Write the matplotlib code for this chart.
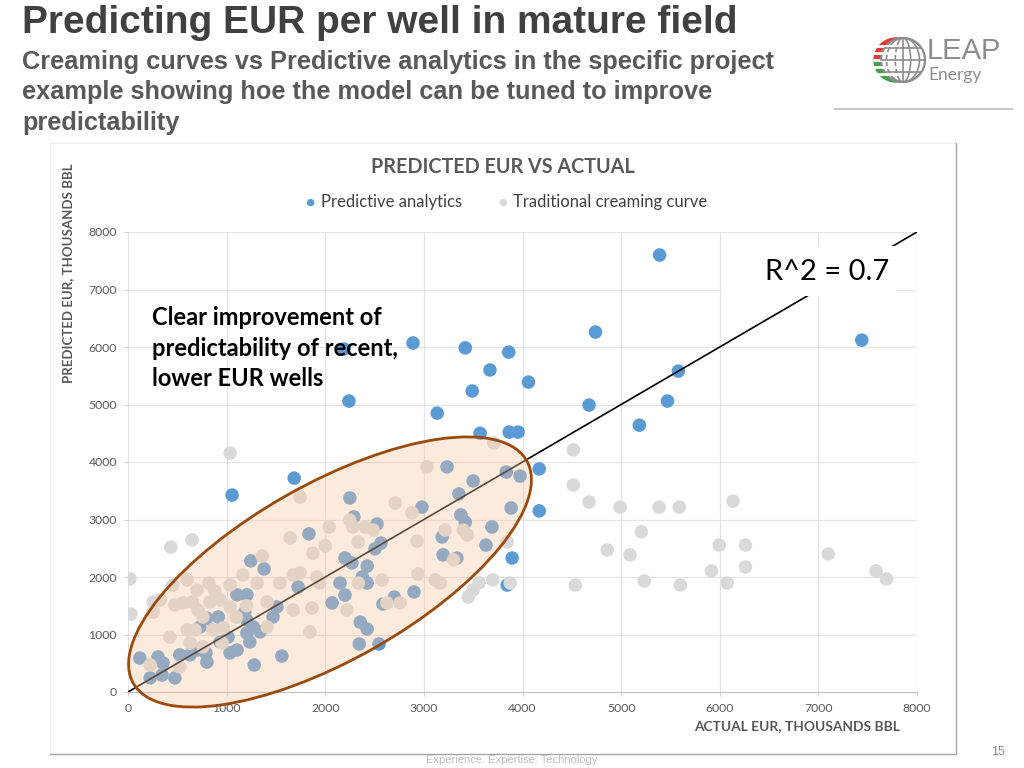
import numpy as np
import matplotlib
matplotlib.use("Agg")
import matplotlib.pyplot as plt
from matplotlib.patches import Ellipse, Rectangle, Circle, Wedge
from matplotlib.transforms import IdentityTransform
from matplotlib.lines import Line2D

# data (thousands bbl)
pred_x = [5390, 4740, 7440, 2890, 2190, 3420, 3860, 3670, 5580, 4060, 3490, 4675, 5470, 2240,
          3135, 5185, 3570, 3865, 3955, 4170, 4170, 1055, 1685, 3895, 3845, 3975,
          3235, 3500, 3835, 3355, 2980, 3885, 2250, 2290, 2525, 3375, 3420, 3690, 1835, 2565,
          2505, 3185, 3630, 3195, 3335, 2200, 2270, 2425, 1245, 1380, 1725, 2150, 2425, 2375,
          2200, 2070, 2900, 2700, 2585, 2355, 2425, 2345, 2545, 1560, 1280, 475, 225, 345,
          120, 305, 355, 525, 630, 790, 800, 700, 935, 1035, 1105, 1235, 1205, 1270, 1340,
          1205, 1185, 1105, 1205, 1470, 1510, 915, 800, 730, 1015]
pred_y = [7600, 6260, 6120, 6070, 5965, 5985, 5910, 5600, 5580, 5390, 5235, 4990, 5060, 5060,
          4850, 4640, 4500, 4520, 4520, 3880, 3150, 3425, 3720, 2330, 1860, 3755,
          3915, 3670, 3825, 3445, 3215, 3200, 3375, 3045, 2920, 3080, 2955, 2870, 2750, 2590,
          2490, 2695, 2555, 2385, 2330, 2330, 2245, 2190, 2280, 2140, 1825, 1895, 1895, 2000,
          1685, 1550, 1740, 1650, 1530, 1215, 1095, 835, 835, 625, 470, 245, 245, 295,
          590, 610, 505, 645, 645, 680, 520, 730, 870, 680, 730, 870, 1025, 1130, 1045,
          1250, 1390, 1690, 1690, 1305, 1480, 1305, 1285, 1130, 955]

trad_x = [1035, 435, 650, 20, 30, 3710, 4515, 4515, 4675, 4990, 5385, 5590, 6135, 5205,
          4860, 5090, 5995, 6260, 6260, 5915, 5235, 5600, 6075, 4535, 7100, 7585, 7690, 3875, 3700,
          3030, 2710, 2880, 2930, 2940, 3115, 3165, 3215, 3400, 3440, 3845, 3500, 3450, 1745,
          1645, 2040, 2000, 1875, 2250, 2280, 2405, 2485, 2335, 1360, 1165, 1035, 820, 600,
          455, 325, 255, 475, 560, 650, 710, 830, 935, 1035, 1310, 1410, 1540, 1675, 1745,
          1915, 1945, 1675, 1865, 1845, 2220, 2335, 2575, 2625, 2760, 425, 600, 680, 860,
          965, 630, 760, 955, 225, 525, 1410, 255, 700, 760, 1100, 1200, 880, 3560, 3300]
trad_y = [4155, 2520, 2645, 1965, 1355, 4330, 4210, 3600, 3305, 3215, 3215, 3215, 3320, 2785,
          2470, 2385, 2555, 2555, 2175, 2105, 1930, 1860, 1895, 1860, 2400, 2105, 1965, 1895, 1950,
          3915, 3285, 3115, 2625, 2050, 1950, 1895, 2815, 2815, 2730, 2610, 1775, 1650, 3390,
          2680, 2870, 2540, 2415, 2990, 2870, 2870, 2815, 2610, 2365, 2035, 1860, 1895, 1950,
          1860, 1600, 1390, 1515, 1550, 1565, 1425, 1565, 1600, 1480, 1895, 1565, 1895, 2035, 2070,
          2000, 1895, 1425, 1460, 1045, 1425, 1895, 1950, 1550, 1550, 955, 1080, 1080, 1080,
          1115, 850, 785, 850, 470, 435, 1130, 1565, 1775, 1305, 1300, 1500, 1750, 1900, 2300]

fit_x = [0, 8000]
fit_y = [0, 8000]
ticks = [0, 1000, 2000, 3000, 4000, 5000, 6000, 7000, 8000]

W, H = 1024, 768
fig = plt.figure(figsize=(W / 100, H / 100), dpi=100)
fig.patch.set_facecolor("white")


def fx(px):
    return px / W


def fy(py):
    return 1 - py / H


# slide header
fig.text(fx(22), fy(23), "Predicting EUR per well in mature field", family="Liberation Sans",
         weight="bold", size=28, color="#404040", va="center")
fig.text(fx(22), fy(50), "Creaming curves vs Predictive analytics in the specific project\n"
         "example showing hoe the model can be tuned to improve\npredictability",
         family="Liberation Sans", weight="bold", size=18.3, color="#595959", va="top",
         linespacing=1.33)

# chart frame
fig.add_artist(Line2D([fx(50), fx(956)], [fy(143), fy(143)], color="#eeeeee", lw=0.8))
fig.add_artist(Line2D([fx(50), fx(50)], [fy(143), fy(754)], color="#eeeeee", lw=0.8))
fig.add_artist(Line2D([fx(956), fx(956)], [fy(143), fy(754)], color="#a6a6a6", lw=1))
fig.add_artist(Line2D([fx(50), fx(956)], [fy(754), fy(754)], color="#a6a6a6", lw=1))

# main axes
ax = fig.add_axes([fx(128), fy(692), (917 - 128) / W, (692 - 232) / H])
ax.set_xlim(0, 8000)
ax.set_ylim(0, 8000)
ax.set_xticks(ticks)
ax.set_yticks(ticks)
ax.grid(True, color="#e3e3e3", lw=0.8)
ax.set_axisbelow(True)
for s in ["top", "right", "left"]:
    ax.spines[s].set_visible(False)
ax.spines["bottom"].set_color("#bfbfbf")
ax.tick_params(colors="#d0d0d0", labelcolor="#595959", labelsize=8.8, length=3, pad=5)
for lab in ax.get_xticklabels() + ax.get_yticklabels():
    lab.set_family("Lato")

ax.scatter(pred_x, pred_y, s=95, color="#5b9bd5", edgecolors="none", zorder=2,
           label="Predictive analytics")
ax.scatter(trad_x, trad_y, s=95, color="#d9d9d9", edgecolors="none", zorder=2.1,
           label="Traditional creaming curve")
ax.plot(fit_x, fit_y, color="black", lw=1.2, zorder=3)

# highlight ellipse (drawn in pixel space)
ell = Ellipse((330, H - 572), 452, 176, angle=29.5, transform=IdentityTransform(),
              facecolor=(249 / 255, 198 / 255, 160 / 255, 0.37), edgecolor="#9a4a0c",
              lw=2, zorder=5, clip_on=False)
ax.add_patch(ell)

# R^2 label box
ax.add_patch(Rectangle((722, H - 296), 175, 50, transform=IdentityTransform(),
                       facecolor="white", edgecolor="none", zorder=6, clip_on=False))
fig.text(fx(827), fy(272), "R^2 = 0.7", family="Lato", size=21, color="black",
         ha="center", va="center", zorder=7)

fig.text(fx(152), fy(306), "Clear improvement of\npredictability of recent,\nlower EUR wells",
         family="Lato", weight="bold", size=17, color="black", va="top", linespacing=1.4)

# chart title, legend, axis labels
fig.text(fx(503), fy(167), "PREDICTED EUR VS ACTUAL", family="Lato", weight="bold",
         size=14.2, color="#595959", ha="center", va="center")
leg = fig.legend(loc="center", bbox_to_anchor=(fx(505), fy(202)), ncol=2, frameon=False,
                 prop={"family": "Lato", "size": 12}, handletextpad=0.1,
                 columnspacing=2.0, markerscale=0.55, handlelength=1.0)
for t in leg.get_texts():
    t.set_color("#404040")
fig.text(fx(68), fy(273), "PREDICTED EUR, THOUSANDS BBL", family="Lato", weight="bold",
         size=9.5, color="#595959", rotation=90, ha="center", va="center")
fig.text(fx(797), fy(726), "ACTUAL EUR, THOUSANDS BBL", family="Lato", weight="bold",
         size=9.9, color="#595959", ha="center", va="center")

# footer
fig.text(fx(512), fy(760), "Experience. Expertise. Technology", family="Liberation Sans",
         size=8, color="#bfbfbf", ha="center", va="center")
fig.text(fx(998), fy(752), "15", family="Liberation Sans", size=9, color="#8c8c8c",
         ha="center", va="center")

# logo
fig.add_artist(Line2D([fx(835), fx(1012)], [fy(109), fy(109)], color="#c8c8c8", lw=1.5))
lg = fig.add_axes([fx(860), fy(90), 140 / W, 60 / H])
lg.set_xlim(0, 140)
lg.set_ylim(0, 60)
lg.axis("off")
cx, cy, r = 43, 30, 22
lg.add_patch(Wedge((cx - 7, cy), r, 90, 180, color="#e53935"))
lg.add_patch(Wedge((cx - 7, cy), r, 0, 90, color="#e53935"))
lg.add_patch(Wedge((cx - 7, cy), r, 180, 360, color="#43a047"))
for yy in [cy - 14, cy - 7, cy, cy + 7, cy + 14]:
    lg.plot([cx - 30, cx], [yy, yy], color="white", lw=2)
lg.add_patch(Circle((cx, cy), r, facecolor="white", edgecolor="#8c8c8c", lw=1.6))
for k in [0.35, 0.75]:
    lg.add_patch(Ellipse((cx, cy), 2 * r * k, 2 * r, facecolor="none", edgecolor="#8c8c8c", lw=1.2))
lg.plot([cx, cx], [cy - r, cy + r], color="#8c8c8c", lw=1.2)
for yy in [-12, 0, 12]:
    hw = np.sqrt(r ** 2 - yy ** 2)
    lg.plot([cx - hw, cx + hw], [cy + yy, cy + yy], color="#8c8c8c", lw=1.2)
lg.text(67, 39, "LEAP", family="Liberation Sans", size=21, color="#8c8c8c", va="center")
lg.text(68, 15, "Energy", family="Lato", size=12.5, color="#8c8c8c", va="center")

fig.savefig("out.png", dpi=100)
